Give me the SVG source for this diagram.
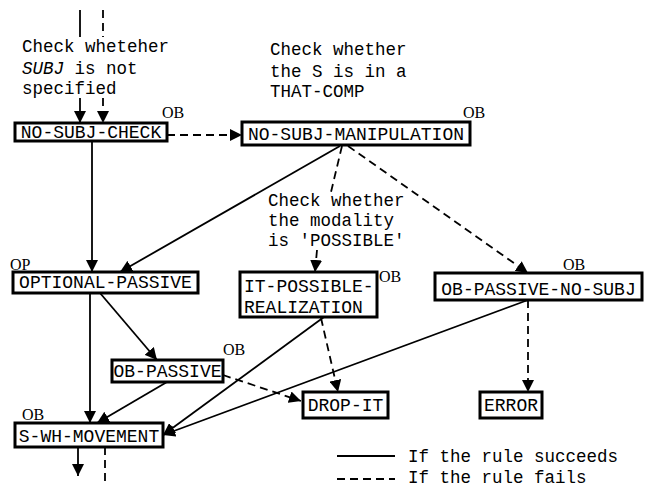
<svg xmlns="http://www.w3.org/2000/svg" width="649" height="489" viewBox="0 0 649 489">
<style>
  .box{fill:#fff;stroke:#000;stroke-width:3}
  .t{font-family:"Liberation Mono","Courier New",monospace;font-size:18px;fill:#000}
  .l{font-family:"Liberation Mono","Courier New",monospace;font-size:17.5px;fill:#000}
  .ob{font-family:"Liberation Serif","Times New Roman",serif;font-size:16px;fill:#000}
  .s{stroke:#000;stroke-width:1.8;fill:none}
  .d{stroke:#000;stroke-width:1.8;fill:none;stroke-dasharray:8 5}
</style>
<defs>
  <marker id="ah" viewBox="0 0 12 12" refX="12" refY="6" markerWidth="12" markerHeight="12" markerUnits="userSpaceOnUse" orient="auto">
    <path d="M0,0 L12,6 L0,12 Z" fill="#000"/>
  </marker>
</defs>
<rect width="649" height="489" fill="#fff"/>
<g id="labels">
  <text class="l" x="22" y="52">Check wheteher</text>
  <text class="l" x="22" y="74"><tspan font-style="italic">SUBJ</tspan> is not</text>
  <text class="l" x="22" y="94">specified</text>
  <text class="l" x="270" y="55">Check whether</text>
  <text class="l" x="270" y="77">the S is in a</text>
  <text class="l" x="270" y="97">THAT-COMP</text>
  <text class="l" x="268" y="206">Check whether</text>
  <text class="l" x="268" y="226">the modality</text>
  <text class="l" x="268" y="246">is 'POSSIBLE'</text>
</g>
<g id="connectors">
  <line class="s" x1="80" y1="10" x2="80" y2="37"/>
  <line class="d" x1="103" y1="10" x2="103" y2="37"/>
  <line class="s" x1="80" y1="98" x2="80" y2="123" marker-end="url(#ah)"/>
  <line class="d" x1="103" y1="98" x2="103" y2="123" marker-end="url(#ah)"/>
  <line class="d" x1="167" y1="135" x2="242" y2="135" marker-end="url(#ah)"/>
  <line class="s" x1="92" y1="141" x2="92" y2="272" marker-end="url(#ah)"/>
  <line class="s" x1="340" y1="146" x2="120" y2="272" marker-end="url(#ah)"/>
  <line class="d" x1="342" y1="146" x2="331" y2="192"/>
  <line class="d" x1="317" y1="250" x2="315" y2="272" marker-end="url(#ah)"/>
  <line class="d" x1="348" y1="146" x2="528" y2="273" marker-end="url(#ah)"/>
  <line class="s" x1="90" y1="293" x2="90" y2="423" marker-end="url(#ah)"/>
  <line class="s" x1="100" y1="293" x2="157" y2="360" marker-end="url(#ah)"/>
  <line class="s" x1="167" y1="382" x2="97" y2="423" marker-end="url(#ah)"/>
  <line class="s" x1="324" y1="317" x2="163" y2="435" marker-end="url(#ah)"/>
  <line class="s" x1="528" y1="300" x2="163" y2="435" marker-end="url(#ah)"/>
  <line class="d" x1="321" y1="318" x2="338" y2="392" marker-end="url(#ah)"/>
  <line class="d" x1="223" y1="375" x2="301" y2="401" marker-end="url(#ah)"/>
  <line class="d" x1="528" y1="300" x2="528" y2="392" marker-end="url(#ah)"/>
  <line class="s" x1="78" y1="447" x2="78" y2="476" marker-end="url(#ah)"/>
  <line class="d" x1="105" y1="447" x2="105" y2="482"/>
</g>
<g id="no-subj-check">
  <rect class="box" x="15" y="123" width="152" height="18"/>
  <text class="t" x="91" y="138" text-anchor="middle">NO-SUBJ-CHECK</text>
  <text class="ob" x="162" y="118">OB</text>
</g>
<g id="no-subj-manipulation">
  <rect class="box" x="242" y="122" width="228" height="23"/>
  <text class="t" x="356" y="140" text-anchor="middle">NO-SUBJ-MANIPULATION</text>
  <text class="ob" x="463" y="118">OB</text>
</g>
<g id="optional-passive">
  <rect class="box" x="13" y="272" width="185" height="21"/>
  <text class="t" x="105.5" y="288" text-anchor="middle">OPTIONAL-PASSIVE</text>
  <text class="ob" x="10" y="270">OP</text>
</g>
<g id="it-possible-realization">
  <rect class="box" x="240" y="272" width="137" height="45"/>
  <text class="t" x="244" y="292">IT-POSSIBLE-</text>
  <text class="t" x="244" y="313">REALIZATION</text>
  <text class="ob" x="379" y="282">OB</text>
</g>
<g id="ob-passive-no-subj">
  <rect class="box" x="435" y="273" width="207" height="27"/>
  <text class="t" x="538.5" y="295" text-anchor="middle">OB-PASSIVE-NO-SUBJ</text>
  <text class="ob" x="563" y="270">OB</text>
</g>
<g id="ob-passive">
  <rect class="box" x="112" y="360" width="111" height="22"/>
  <text class="t" x="167.5" y="377" text-anchor="middle">OB-PASSIVE</text>
  <text class="ob" x="223" y="355">OB</text>
</g>
<g id="s-wh-movement">
  <rect class="box" x="15" y="423" width="148" height="24"/>
  <text class="t" x="89" y="442" text-anchor="middle">S-WH-MOVEMENT</text>
  <text class="ob" x="22" y="420">OB</text>
</g>
<g id="drop-it">
  <rect class="box" x="303" y="392" width="85" height="26"/>
  <text class="t" x="345.5" y="411" text-anchor="middle">DROP-IT</text>
</g>
<g id="error">
  <rect class="box" x="480" y="392" width="62" height="26"/>
  <text class="t" x="511" y="411" text-anchor="middle">ERROR</text>
</g>
<g id="legend">
  <line class="s" x1="337" y1="456" x2="395" y2="456"/>
  <line class="d" x1="337" y1="479" x2="395" y2="479"/>
  <text class="l" x="408" y="462">If the rule succeeds</text>
  <text class="l" x="408" y="483">If the rule fails</text>
</g>
</svg>
